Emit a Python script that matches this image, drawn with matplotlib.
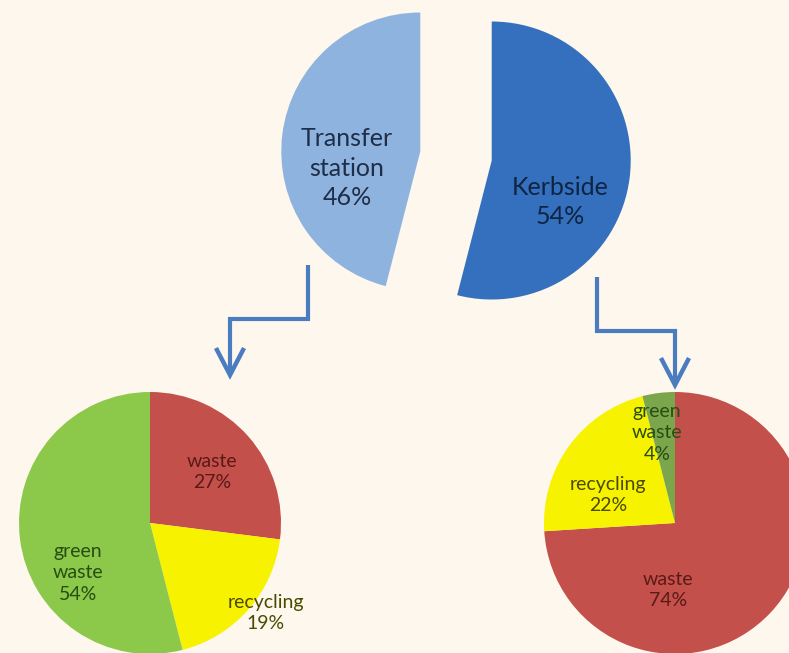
import matplotlib.pyplot as plt

# Share of collected material by route, and the split within each route (%)
route_labels = ['Transfer\nstation', 'Kerbside']
route_values = [46, 54]

stream_labels = ['waste', 'recycling', 'green\nwaste']
transfer_values = [27, 19, 54]
kerbside_values = [74, 22, 4]

bg = '#fef7ed'
route_colors = ['#8fb3df', '#3470bd']
transfer_colors = ['#c3504b', '#f7f200', '#8cc84a']
kerbside_colors = ['#c3504b', '#f7f200', '#7ba64b']
stream_text = ['#5a1a17', '#4a4a00', '#274d12']
arrow_color = '#4a7cc0'

W, H = 789, 653
fig = plt.figure(figsize=(W / 100, H / 100), dpi=100, facecolor=bg)
ax = fig.add_axes([0, 0, 1, 1])
plt.rcParams['font.family'] = ['Lato', 'DejaVu Sans']


def py(y):
    # image rows run downwards, data y runs upwards
    return H - y


# top pie: routes, both halves pulled apart
ax.pie(route_values, colors=route_colors, startangle=90, counterclock=True,
       center=(456, py(156)), radius=139, explode=[36, 36],
       wedgeprops=dict(linewidth=0), frame=True)
route_pos = [(347, 168), (560, 202)]
route_text = ['#1e2e48', '#0f2442']
for lab, val, (x, y), c in zip(route_labels, route_values, route_pos, route_text):
    ax.text(x, py(y), f'{lab}\n{val}%', ha='center', va='center', fontsize=18,
            color=c, linespacing=1.35)

# bottom left pie: transfer station breakdown
ax.pie(transfer_values, colors=transfer_colors, startangle=90, counterclock=False,
       center=(150, py(523)), radius=131, wedgeprops=dict(linewidth=0), frame=True)
transfer_pos = [(212, 472), (266, 613), (78, 573)]
for lab, val, (x, y), c in zip(stream_labels, transfer_values, transfer_pos, stream_text):
    ax.text(x, py(y), f'{lab}\n{val}%', ha='center', va='center', fontsize=14,
            color=c, linespacing=1.35)

# bottom right pie: kerbside breakdown
ax.pie(kerbside_values, colors=kerbside_colors, startangle=90, counterclock=False,
       center=(675, py(523)), radius=131, wedgeprops=dict(linewidth=0), frame=True)
kerbside_pos = [(668, 590), (608, 495), (657, 433)]
for lab, val, (x, y), c in zip(stream_labels, kerbside_values, kerbside_pos, stream_text):
    ax.text(x, py(y), f'{lab}\n{val}%', ha='center', va='center', fontsize=14,
            color=c, linespacing=1.35)

ax.set_xlim(0, W)
ax.set_ylim(0, H)
ax.set_aspect('equal')
ax.axis('off')


def elbow_arrow(x0, y0, y_mid, x1, y_tip):
    xs = [x0, x0, x1, x1]
    ys = [py(y0), py(y_mid), py(y_mid), py(y_tip - 2)]
    ax.plot(xs, ys, color=arrow_color, lw=3, solid_joinstyle='miter',
            solid_capstyle='butt')
    ax.plot([x1 - 13, x1, x1 + 13], [py(y_tip - 25), py(y_tip), py(y_tip - 25)],
            color=arrow_color, lw=3.2, solid_joinstyle='miter')


elbow_arrow(308, 265, 319, 230, 375)
elbow_arrow(597, 277, 331, 675, 385)

fig.savefig('out.png', dpi=100, facecolor=bg)
